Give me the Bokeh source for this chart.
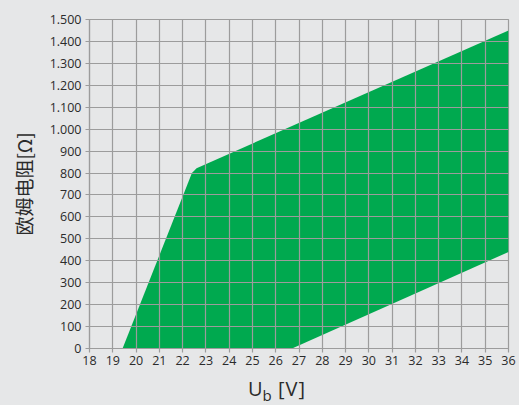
from bokeh.plotting import figure
from bokeh.models import Range1d, FixedTicker, Div
from bokeh.layouts import column
from bokeh.embed import file_html
from bokeh.resources import INLINE

# Data: operating region polygon (U_b [V], R [Ohm])
region_u = [19.42, 22.4, 22.6, 36.0, 36.0, 26.7]
region_r = [0, 800, 822, 1450, 440, 0]

x_ticks = list(range(18, 37))
y_ticks = list(range(0, 1600, 100))
y_tick_labels = ["0", "100", "200", "300", "400", "500", "600", "700", "800", "900",
                 "1.000", "1.100", "1.200", "1.300", "1.400", "1.500"]

BG = "#e6e7e8"
GRID = "#9c9c9c"
GREEN = "#00a94f"
TXT = "#2b2b2b"

p = figure(width=519, height=375, output_backend="svg", toolbar_location=None,
           x_range=Range1d(18, 36), y_range=Range1d(0, 1500),
           min_border_left=89, min_border_right=11, min_border_top=19, min_border_bottom=27)
p.background_fill_color = BG
p.border_fill_color = BG
p.outline_line_color = GRID
p.outline_line_width = 1.2

p.patch(region_u, region_r, fill_color=GREEN, line_color=None)

for ax in (p.xaxis[0], p.yaxis[0]):
    ax.axis_line_color = GRID
    ax.axis_line_width = 1.2
    ax.major_tick_line_color = GRID
    ax.major_tick_line_width = 1.2
    ax.major_tick_out = 4
    ax.major_tick_in = 0
    ax.minor_tick_line_color = None
    ax.major_label_text_font = "Open Sans"
    ax.major_label_text_font_size = "12.5px"
    ax.major_label_text_color = TXT

p.xaxis.ticker = FixedTicker(ticks=x_ticks)
p.yaxis.ticker = FixedTicker(ticks=y_ticks)
p.yaxis.major_label_overrides = {t: s for t, s in zip(y_ticks, y_tick_labels)}
p.xaxis.major_label_standoff = 3
p.yaxis.major_label_standoff = 4

p.yaxis.axis_label = "欧姆电阻[Ω]"
p.yaxis.axis_label_text_font = "Noto Sans CJK SC"
p.yaxis.axis_label_text_font_size = "19px"
p.yaxis.axis_label_text_font_style = "normal"
p.yaxis.axis_label_text_color = TXT
p.yaxis.axis_label_standoff = 10

for g in (p.xgrid[0], p.ygrid[0]):
    g.grid_line_color = GRID
    g.grid_line_width = 1.2
    g.level = "overlay"
p.xgrid.ticker = FixedTicker(ticks=x_ticks)
p.ygrid.ticker = FixedTicker(ticks=y_ticks)

# x axis label "U_b [V]" with a real subscript, as an HTML block under the plot
xlabel = Div(
    text='U<span style="font-size:15px; position:relative; top:5px;">b</span>'
         '<span style="letter-spacing:1px;"> [V]</span>',
    width=519, height=30,
    styles={"font-family": "'Open Sans', sans-serif", "font-size": "20px",
            "line-height": "27px", "color": TXT, "padding-left": "248px",
            "background-color": BG, "white-space": "nowrap", "margin": "0"},
)

layout = column(p, xlabel, spacing=0, styles={"background-color": BG})

html = file_html(layout, INLINE)
html = html.replace("</head>", "<style>html, body { background: %s; }</style></head>" % BG, 1)
open("out.html", "w").write(html)
